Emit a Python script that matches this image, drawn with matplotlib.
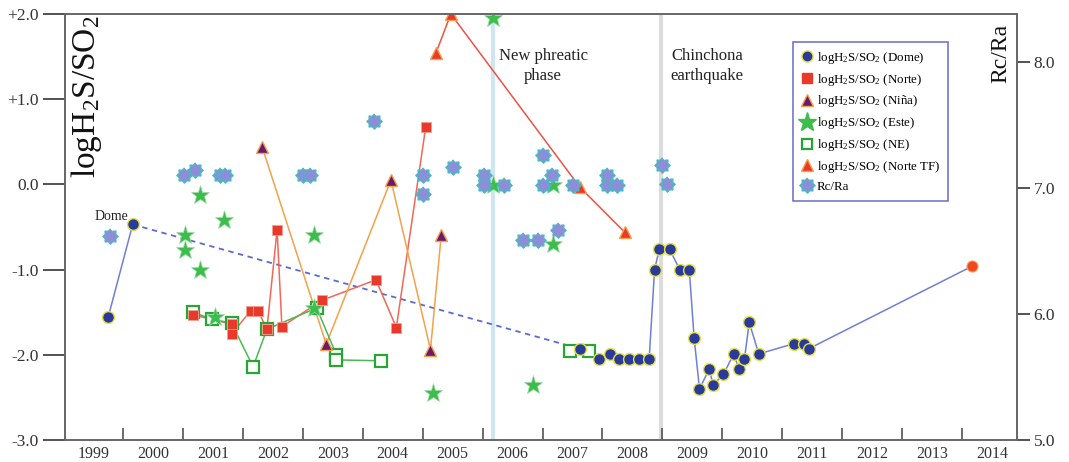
import matplotlib
matplotlib.use('Agg')
import matplotlib.pyplot as plt
import numpy as np
from matplotlib.lines import Line2D

plt.rcParams['font.family'] = ['Liberation Serif', 'DejaVu Serif']
plt.rcParams['mathtext.fontset'] = 'custom'
plt.rcParams['mathtext.rm'] = 'Liberation Serif'
plt.rcParams['mathtext.default'] = 'regular'

# --- data (decimal year, value) ---
dome_early_t = [1999.75, 2000.16]
dome_early_v = [-1.56, -0.47]

dome_t = [2007.63, 2007.95, 2008.12, 2008.28, 2008.45, 2008.61, 2008.78, 2008.87,
          2008.95, 2009.12, 2009.29, 2009.45, 2009.53, 2009.62, 2009.78, 2009.85,
          2010.02, 2010.19, 2010.28, 2010.37, 2010.45, 2010.61, 2011.19, 2011.36,
          2011.44, 2014.17]
dome_v = [-1.93, -2.05, -1.99, -2.05, -2.05, -2.05, -2.05, -1.00,
          -0.76, -0.76, -1.00, -1.00, -1.80, -2.40, -2.17, -2.35,
          -2.23, -1.99, -2.17, -2.05, -1.62, -1.99, -1.87, -1.87,
          -1.93, -0.96]

norte_t = [2001.16, 2001.81, 2001.81, 2002.13, 2002.25, 2002.40, 2002.57, 2002.65,
           2003.32, 2004.22, 2004.56, 2005.05]
norte_v = [-1.53, -1.64, -1.76, -1.48, -1.48, -1.70, -0.53, -1.67,
           -1.36, -1.12, -1.68, 0.67]

nina_t = [2002.32, 2003.39, 2004.47, 2005.13, 2005.31]
nina_v = [0.44, -1.875, 0.05, -1.94, -0.59]

este_t = [2001.04, 2001.03, 2001.29, 2001.29, 2001.69, 2001.54, 2003.19, 2003.19,
          2005.18, 2006.17, 2006.17, 2006.84, 2007.17, 2007.17]
este_v = [-0.59, -0.77, -0.13, -1.00, -0.42, -1.56, -0.59, -1.45,
          -2.45, 1.95, -0.01, -2.35, -0.01, -0.70]

ne_t = [2001.16, 2001.48, 2001.81, 2002.17, 2002.40, 2003.23, 2003.56, 2003.56, 2004.30]
ne_v = [-1.50, -1.58, -1.63, -2.14, -1.70, -1.45, -2.00, -2.06, -2.07]
ne_late_t = [2007.46, 2007.78]
ne_late_v = [-1.95, -1.95]

tf_t = [2005.22, 2005.47, 2007.62, 2008.37]
tf_v = [1.54, 2.00, -0.03, -0.56]

rcra_t = [1999.78, 2001.02, 2001.20, 2001.61, 2001.70, 2003.01, 2003.12, 2004.19,
          2005.01, 2005.01, 2005.51, 2006.02, 2006.02, 2006.35, 2006.68, 2006.93,
          2007.01, 2007.16, 2007.01, 2007.26, 2007.51, 2008.08, 2008.08, 2008.25,
          2008.99, 2009.08]
rcra_v = [6.62, 7.10, 7.14, 7.10, 7.10, 7.10, 7.10, 7.53,
          7.10, 6.95, 7.17, 7.10, 7.02, 7.02, 6.59, 6.59,
          7.26, 7.10, 7.02, 6.67, 7.02, 7.10, 7.02, 7.02,
          7.18, 7.03]

years = list(range(1999, 2015))
left_ticks = [-3, -2, -1, 0, 1, 2]
left_labels = ['-3.0', '-2.0', '-1.0', '0.0', '+1.0', '+2.0']
right_ticks = [5, 6, 7, 8]
right_labels = ['5.0', '6.0', '7.0', '8.0']

# colours
c_dome = '#283a9c'
c_yel = '#e6df3a'
c_red = '#e8392a'
c_green = '#3dbd4c'
c_purple = '#6a1a70'
c_orange = '#f3a14a'
c_rc = '#8c8fd8'
c_teal = '#47b9c3'

# blunt 8-point "seal" marker for Rc/Ra
ang = np.arange(16) * np.pi / 8 + np.pi / 2
rad = np.where(np.arange(16) % 2 == 0, 1.0, 0.74)
seal = list(zip(rad * np.cos(ang), rad * np.sin(ang)))

fig = plt.figure(figsize=(10.69, 4.62), dpi=100)
ax = fig.add_axes([0.0608, 0.0476, 0.8906, 0.9221])
ax2 = ax.twinx()

ax.axvline(2006.17, color='#cfe5ef', lw=3, zorder=0)
ax.axvline(2008.98, color='#dcdcdc', lw=3, zorder=0)

# lines
ax.plot(dome_early_t, dome_early_v, color='#6f7fd6', lw=1.1, zorder=2)
ax.plot([dome_early_t[1], dome_t[0]], [dome_early_v[1], dome_v[0]], color='#5b6bd0',
        lw=1.3, ls=(0, (3, 2.5)), zorder=2)
ax.plot(dome_t, dome_v, color='#6f7fd6', lw=1.1, zorder=2)
ax.plot(norte_t, norte_v, color='#f2675a', lw=1.1, zorder=2)
ax.plot(nina_t, nina_v, color=c_orange, lw=1.1, zorder=2)
ax.plot(tf_t, tf_v, color='#ef5242', lw=1.1, zorder=2)
ax.plot(ne_t, ne_v, color='#4cb855', lw=1.1, zorder=2)

# markers
ax.plot(ne_t + ne_late_t, ne_v + ne_late_v, ls='none', marker='s', ms=8.5, mfc='white',
        mec='#27a536', mew=1.6, zorder=3)
ax.plot(norte_t, norte_v, ls='none', marker='s', ms=7.5, mfc=c_red, mec='#f0a090',
        mew=0.6, zorder=4)
ax.plot(este_t, este_v, ls='none', marker='*', ms=14, mfc=c_green, mec='#9fdca8',
        mew=0.5, zorder=4)
ax.plot(nina_t, nina_v, ls='none', marker='^', ms=8, mfc=c_purple, mec=c_orange,
        mew=1.0, zorder=4)
ax.plot(tf_t, tf_v, ls='none', marker='^', ms=8, mfc=c_red, mec=c_orange,
        mew=1.0, zorder=4)
ax.plot(dome_early_t + dome_t[:-1], dome_early_v + dome_v[:-1], ls='none', marker='o',
        ms=8.5, mfc=c_dome, mec=c_yel, mew=1.0, zorder=5)
ax.plot(dome_t[-1:], dome_v[-1:], ls='none', marker='o', ms=8, mfc='#ef4a1c',
        mec='#f7a070', mew=0.8, zorder=5)

ax2.plot(rcra_t, rcra_v, ls='none', marker=seal, ms=11, mfc=c_rc, mec=c_teal,
         mew=1.0, zorder=5)

# axes setup
ax.set_xlim(1999.03, 2014.92)
ax.set_ylim(-3, 2)
ax2.set_ylim(5.0, 8.38)

ax.set_xticks(range(2000, 2015))
ax.set_xticklabels([])
ax.set_xticks([y + 0.5 for y in years], minor=True)
ax.set_xticklabels([str(y) for y in years], minor=True)
ax.tick_params(axis='x', which='major', direction='in', length=9, width=1.1,
               color='#444444')
ax.tick_params(axis='x', which='minor', length=0, pad=4, labelsize=11.5,
               labelcolor='#333333')

ax.set_yticks(left_ticks)
ax.set_yticklabels(left_labels)
ax.tick_params(axis='y', direction='out', length=16, width=1.3, pad=3,
               labelsize=12.5, color='#444444', labelcolor='#333333')

ax2.set_yticks(right_ticks)
ax2.set_yticklabels(right_labels)
ax2.tick_params(axis='y', direction='out', length=9, width=1.3, pad=3,
                labelsize=12.5, color='#444444', labelcolor='#333333')

for a in (ax, ax2):
    for s in a.spines.values():
        s.set_color('#666666')
        s.set_linewidth(1.2)

# texts
ax.text(0.023, 0.805, 'logH$_2$S/SO$_2$', transform=ax.transAxes, rotation=90,
        ha='center', va='center', fontsize=24, color='#111111')
ax.text(0.983, 0.908, 'Rc/Ra', transform=ax.transAxes, rotation=90,
        ha='center', va='center', fontsize=17, color='#111111')
ax.text(1999.81, -0.38, 'Dome', ha='center', va='center', fontsize=10, color='#222222')
ax.text(2007.01, 1.39, 'New phreatic\nphase', ha='center', va='center', fontsize=12,
        color='#222222', linespacing=1.3)
ax.text(2009.75, 1.39, 'Chinchona\nearthquake', ha='center', va='center', fontsize=12,
        color='#222222', linespacing=1.3)

# legend
lab = 'logH$_2$S/SO$_2$'
handles = [
    Line2D([], [], ls='none', marker='o', ms=8, mfc=c_dome, mec=c_yel, mew=1.0),
    Line2D([], [], ls='none', marker='s', ms=7.5, mfc=c_red, mec=c_red),
    Line2D([], [], ls='none', marker='^', ms=8, mfc=c_purple, mec=c_orange, mew=1.0),
    Line2D([], [], ls='none', marker='*', ms=14, mfc=c_green, mec=c_green),
    Line2D([], [], ls='none', marker='s', ms=7.5, mfc='white', mec='#27a536', mew=1.6),
    Line2D([], [], ls='none', marker='^', ms=8, mfc=c_red, mec=c_orange, mew=1.0),
    Line2D([], [], ls='none', marker=seal, ms=11, mfc=c_rc, mec=c_teal, mew=1.0),
]
labels = [lab + ' (Dome)', lab + ' (Norte)', lab + ' (Niña)', lab + ' (Este)',
          lab + ' (NE)', lab + ' (Norte TF)', 'Rc/Ra']
leg = ax2.legend(handles, labels, loc='upper left', bbox_to_anchor=(0.765, 0.934),
                 borderaxespad=0, fontsize=9.3, frameon=True, fancybox=False,
                 framealpha=1, edgecolor='#6a6ac8', handlelength=0.9,
                 handletextpad=0.3, labelspacing=0.45, borderpad=0.6)
leg.get_frame().set_linewidth(1.1)
leg.set_zorder(10)

fig.savefig('out.png', dpi=100)
